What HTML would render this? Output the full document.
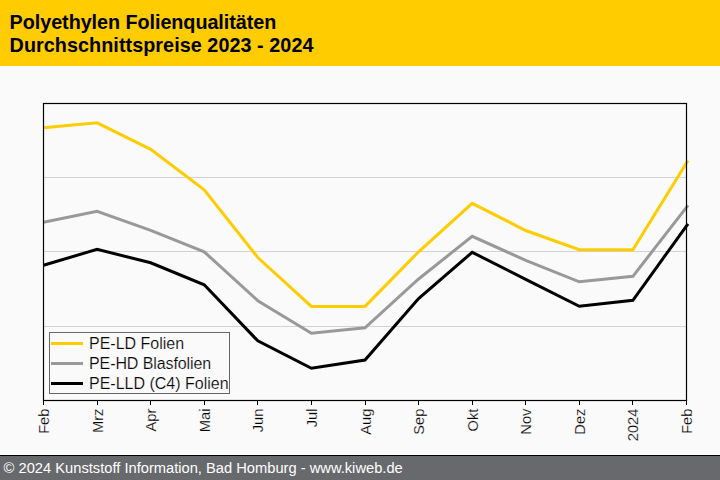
<!DOCTYPE html>
<html>
<head>
<meta charset="utf-8">
<title>Polyethylen Folienqualitäten</title>
<style>
html,body{margin:0;padding:0;}
body{width:720px;height:480px;overflow:hidden;background:#fafafa;font-family:"Liberation Sans",sans-serif;position:relative;}
#hdr{position:absolute;left:0;top:0;width:720px;height:66px;background:#ffcc00;}
#hdr div{position:absolute;left:9.6px;font-weight:bold;font-size:19.8px;color:#000;white-space:nowrap;line-height:23px;}
#t1{top:10.5px;letter-spacing:-0.055px;}
#t2{top:33.5px;letter-spacing:0.05px;}
#ftr{position:absolute;left:0;top:455px;width:720px;height:25px;background:#68696d;border-top:1px solid #000;box-sizing:border-box;}
#ftr span{position:absolute;left:3.6px;top:2.7px;color:#fff;font-size:14.7px;white-space:nowrap;line-height:18px;}
#wl{position:absolute;left:0;top:454px;width:720px;height:1px;background:#fff;}
svg{position:absolute;left:0;top:0;}
.xl{font-size:14.67px;fill:#000;stroke:#fafafa;stroke-width:0.2px;}
.lg{font-size:16px;fill:#000;stroke:#fafafa;stroke-width:0.2px;}
</style>
</head>
<body>
<div id="hdr"><div id="t1">Polyethylen Folienqualitäten</div><div id="t2">Durchschnittspreise 2023 - 2024</div></div>
<svg width="720" height="480" viewBox="0 0 720 480" font-family="Liberation Sans, sans-serif">
<!-- gridlines -->
<g stroke="#d2d2d2" stroke-width="1" shape-rendering="crispEdges">
<line x1="44" y1="177.5" x2="686" y2="177.5"/>
<line x1="44" y1="251.5" x2="686" y2="251.5"/>
<line x1="44" y1="326.5" x2="686" y2="326.5"/>
</g>
<!-- ticks -->
<g stroke="#000" stroke-width="1" shape-rendering="crispEdges">
<line x1="43.5" y1="400" x2="43.5" y2="405"/>
<line x1="97.5" y1="400" x2="97.5" y2="405"/>
<line x1="150.5" y1="400" x2="150.5" y2="405"/>
<line x1="204.5" y1="400" x2="204.5" y2="405"/>
<line x1="257.5" y1="400" x2="257.5" y2="405"/>
<line x1="311.5" y1="400" x2="311.5" y2="405"/>
<line x1="365.5" y1="400" x2="365.5" y2="405"/>
<line x1="418.5" y1="400" x2="418.5" y2="405"/>
<line x1="472.5" y1="400" x2="472.5" y2="405"/>
<line x1="525.5" y1="400" x2="525.5" y2="405"/>
<line x1="579.5" y1="400" x2="579.5" y2="405"/>
<line x1="632.5" y1="400" x2="632.5" y2="405"/>
<line x1="686.5" y1="400" x2="686.5" y2="405"/>
</g>
<!-- legend -->
<rect x="49.5" y="332.5" width="180" height="61" fill="#fafafa" stroke="#666" stroke-width="1"/>
<line x1="51" y1="343.5" x2="83" y2="343.5" stroke="#ffcc00" stroke-width="3"/>
<line x1="51" y1="363.5" x2="83" y2="363.5" stroke="#999999" stroke-width="3"/>
<line x1="51" y1="383.5" x2="83" y2="383.5" stroke="#000000" stroke-width="3"/>
<text class="lg" x="89" y="349">PE-LD Folien</text>
<text class="lg" x="89" y="369" letter-spacing="-0.09">PE-HD Blasfolien</text>
<text class="lg" x="89" y="389">PE-LLD (C4) Folien</text>
<!-- series -->
<g fill="none" stroke-width="3" stroke-linejoin="miter" stroke-linecap="butt" transform="translate(0,0.3)">
<polyline stroke="#ffcc00" points="43.5,127.5 97.1,122.5 150.7,149 204.2,189.5 257.8,257.2 311.4,306.1 365,306.1 418.6,251.5 472.2,203 525.7,230.2 579.3,249.4 632.9,249.4 688,160.2"/>
<polyline stroke="#999999" points="43.5,222 97.1,211 150.7,230 204.2,251.5 257.8,300.4 311.4,333 365,327.5 418.6,278.7 472.2,236 525.7,260 579.3,281.5 632.9,276 688,205.1"/>
<polyline stroke="#000000" points="43.5,265 97.1,249 150.7,262.5 204.2,284.5 257.8,340.6 311.4,368 365,359.8 418.6,298.3 472.2,252 525.7,279 579.3,306 632.9,300 688,223.5"/>
</g>
<!-- frame -->
<rect x="43.5" y="103.5" width="643" height="297" fill="none" stroke="#000" stroke-width="1.2"/>
<!-- x labels -->
<g class="xl">
<text text-anchor="end" transform="translate(48.6,408.6) rotate(-90)">Feb</text>
<text text-anchor="end" transform="translate(102.6,408.6) rotate(-90)">Mrz</text>
<text text-anchor="end" transform="translate(155.6,408.6) rotate(-90)">Apr</text>
<text text-anchor="end" transform="translate(209.6,408.6) rotate(-90)">Mai</text>
<text text-anchor="end" transform="translate(262.6,408.6) rotate(-90)">Jun</text>
<text text-anchor="end" transform="translate(316.6,408.6) rotate(-90)">Jul</text>
<text text-anchor="end" transform="translate(370.6,408.6) rotate(-90)">Aug</text>
<text text-anchor="end" transform="translate(423.6,408.6) rotate(-90)">Sep</text>
<text text-anchor="end" transform="translate(477.6,408.6) rotate(-90)">Okt</text>
<text text-anchor="end" transform="translate(530.6,408.6) rotate(-90)">Nov</text>
<text text-anchor="end" transform="translate(584.6,408.6) rotate(-90)">Dez</text>
<text text-anchor="end" transform="translate(637.6,408.6) rotate(-90)">2024</text>
<text text-anchor="end" transform="translate(691.6,408.6) rotate(-90)">Feb</text>
</g>
</svg>
<div id="wl"></div>
<div id="ftr"><span>© 2024 Kunststoff Information, Bad Homburg - www.kiweb.de</span></div>
</body>
</html>
